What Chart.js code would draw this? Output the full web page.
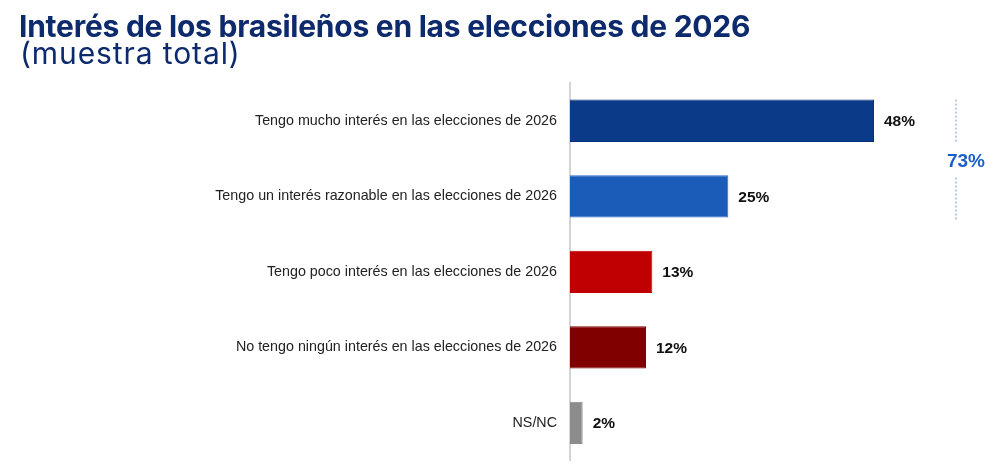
<!DOCTYPE html>
<html>
<head>
<meta charset="utf-8">
<script src="https://cdn.jsdelivr.net/npm/chart.js@4.4.1/dist/chart.umd.min.js"></script>
<style>
  html, body { margin: 0; padding: 0; background: #ffffff; }
  #wrap { position: relative; width: 1000px; height: 465px; overflow: hidden; }
  #title { position: absolute; left: 19px; top: 7px; font-family: Inter, "Open Sans", sans-serif; font-weight: 700; font-size: 30px; color: #0d2a6c; letter-spacing: -0.25px; line-height: 38px; white-space: nowrap; }
  #subtitle { position: absolute; left: 20px; top: 35px; font-family: Inter, "Open Sans", sans-serif; font-weight: 400; font-size: 30px; color: #0d2a6c; letter-spacing: 0.9px; line-height: 36px; white-space: nowrap; }
  canvas { position: absolute; left: 0; top: 0; }
</style>
</head>
<body>
<div id="wrap">
  <canvas id="c" width="1000" height="465"></canvas>
  <div id="title">Interés de los brasileños en las elecciones de 2026</div>
  <div id="subtitle">(muestra total)</div>
</div>
<script>
const categories = [
  "Tengo mucho interés en las elecciones de 2026",
  "Tengo un interés razonable en las elecciones de 2026",
  "Tengo poco interés en las elecciones de 2026",
  "No tengo ningún interés en las elecciones de 2026",
  "NS/NC"
];
const values = [48, 25, 13, 12, 2];
const barColors = ["#0b3a88", "#1a5cb8", "#c00000", "#800000", "#8c8c8c"];
const borderColors = ["#092f7a", "#2a6acb", "#c00000", "#800000", "#8c8c8c"];
const groupTotalLabel = "73%";
const groupIndexes = [0, 1];

const valueLabels = {
  id: 'valueLabels',
  afterDatasetsDraw(chart) {
    const ctx = chart.ctx;
    const meta = chart.getDatasetMeta(0);
    ctx.save();
    ctx.font = "bold 15.5px 'Liberation Sans', Arial, sans-serif";
    ctx.fillStyle = "#111111";
    ctx.textAlign = "left";
    ctx.textBaseline = "middle";
    meta.data.forEach((bar, i) => {
      ctx.fillText(values[i] + "%", bar.x + 10, bar.y + 1);
    });
    // group bracket
    const first = meta.data[groupIndexes[0]];
    const last = meta.data[groupIndexes[groupIndexes.length - 1]];
    const top = first.y - first.height / 2;
    const bottom = last.y + last.height / 2;
    const mid = (top + bottom) / 2 + 2;
    const x = chart.chartArea.right + 6;
    ctx.strokeStyle = "#6f93d8";
    ctx.lineWidth = 1;
    ctx.setLineDash([2, 2]);
    ctx.beginPath();
    ctx.moveTo(x, top); ctx.lineTo(x, mid - 18);
    ctx.moveTo(x, mid + 17); ctx.lineTo(x, bottom + 2);
    ctx.stroke();
    ctx.setLineDash([]);
    ctx.font = "bold 19px 'Liberation Sans', Arial, sans-serif";
    ctx.fillStyle = "#1a5fc6";
    ctx.textAlign = "center";
    ctx.fillText(groupTotalLabel, x + 10, mid + 1);
    ctx.restore();
  }
};

new Chart(document.getElementById('c'), {
  type: 'bar',
  data: {
    labels: categories,
    datasets: [{
      data: values,
      backgroundColor: barColors,
      borderColor: borderColors,
      borderWidth: 1,
      categoryPercentage: 1,
      barPercentage: 0.56
    }]
  },
  options: {
    indexAxis: 'y',
    responsive: false,
    animation: false,
    devicePixelRatio: 1,
    layout: { padding: { top: 83, bottom: 0, left: 0, right: 50 } },
    plugins: { legend: { display: false }, tooltip: { enabled: false }, title: { display: false } },
    scales: {
      x: { display: false, min: 0, max: 60 },
      y: {
        afterFit(scale) { scale.width = 570; },
        grid: { display: true, drawOnChartArea: false, drawTicks: true, tickLength: 13, color: 'rgba(0,0,0,0)' },
        border: { display: true, color: '#d4d4d4', width: 2 },
        ticks: {
          padding: 0,
          color: '#222222',
          font: { family: "'Liberation Sans', Arial, sans-serif", size: 14.3, lineHeight: 0.6 }
        }
      }
    }
  },
  plugins: [valueLabels]
});
</script>
</body>
</html>
